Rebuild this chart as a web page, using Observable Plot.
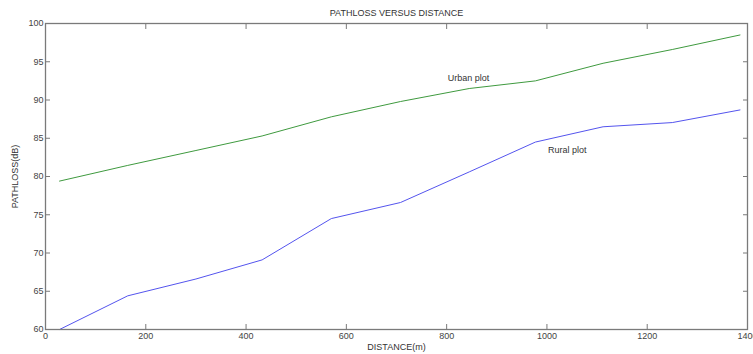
<!DOCTYPE html>
<html>
<head>
<meta charset="utf-8">
<script src="https://cdn.jsdelivr.net/npm/d3@7"></script>
<script src="https://cdn.jsdelivr.net/npm/@observablehq/plot@0.6"></script>
<style>
  html, body { margin: 0; padding: 0; background: #fff; }
  #chart svg { display: block; }
</style>
</head>
<body>
<div id="chart"></div>
<script>
// Distances (m)
const distance = [28, 164, 300, 432, 570, 708, 845, 977, 1112, 1250, 1385];
// Path loss (dB)
const urban = [79.4, 81.45, 83.4, 85.3, 87.8, 89.8, 91.5, 92.5, 94.8, 96.6, 98.5];
const rural = [60.0, 64.4, 66.6, 69.1, 74.5, 76.6, 80.6, 84.5, 86.5, 87.05, 88.7];

const xTicks = [0, 200, 400, 600, 800, 1000, 1200, 1400];
const yTicks = [60, 65, 70, 75, 80, 85, 90, 95, 100];

const seriesNames = ["Urban plot", "Rural plot"];
const labelX = [802, 1002];
const labelY = [92.8, 83.4];

const title = "PATHLOSS VERSUS DISTANCE";
const xLabel = "DISTANCE(m)";
const yLabel = "PATHLOSS(dB)";

const rows = [
  ...distance.map((d, i) => ({series: "Urban plot", distance: d, loss: urban[i]})),
  ...distance.map((d, i) => ({series: "Rural plot", distance: d, loss: rural[i]}))
];
const labels = seriesNames.map((s, i) => ({text: s, x: labelX[i], y: labelY[i]}));

const axisColor = "#7a7a7a";
const textColor = "#444";
const plain = d => String(d);

const chart = Plot.plot({
  width: 753,
  height: 354,
  marginLeft: 45,
  marginRight: 6,
  marginTop: 23,
  marginBottom: 25,
  style: {fontFamily: "'Liberation Sans', Arial, sans-serif", fontSize: "9px", color: textColor, background: "#fff"},
  x: {domain: [0, 1400]},
  y: {domain: [60, 100]},
  color: {domain: seriesNames, range: ["#3f9a3f", "#5454ee"]},
  marks: [
    Plot.line(rows, {x: "distance", y: "loss", z: "series", stroke: "series", strokeWidth: 1}),
    Plot.text(labels, {x: "x", y: "y", text: "text", textAnchor: "start", fill: "#333", fontSize: 9}),
    Plot.frame({stroke: axisColor, strokeWidth: 1.3}),
    Plot.axisX(xTicks, {anchor: "bottom", tickSize: -5, tickPadding: 8, stroke: axisColor, fill: textColor, tickFormat: plain, label: null}),
    Plot.axisX(xTicks, {anchor: "top", tickSize: -5, stroke: axisColor, tickFormat: () => "", label: null}),
    Plot.axisY(yTicks, {anchor: "left", tickSize: -5, tickPadding: 7, stroke: axisColor, fill: textColor, tickFormat: plain, label: null}),
    Plot.axisY(yTicks, {anchor: "right", tickSize: -5, stroke: axisColor, tickFormat: () => "", label: null}),
    Plot.text([title], {frameAnchor: "top", text: d => d, dy: -10, textAnchor: "middle", lineAnchor: "middle", fill: "#333", fontSize: 9}),
    Plot.text([xLabel], {frameAnchor: "bottom", text: d => d, dy: 18, textAnchor: "middle", lineAnchor: "middle", fill: "#333", fontSize: 9}),
    Plot.text([yLabel], {frameAnchor: "left", text: d => d, dx: -30, rotate: -90, textAnchor: "middle", lineAnchor: "middle", fill: "#333", fontSize: 9})
  ]
});
document.getElementById("chart").appendChild(chart);
</script>
</body>
</html>
